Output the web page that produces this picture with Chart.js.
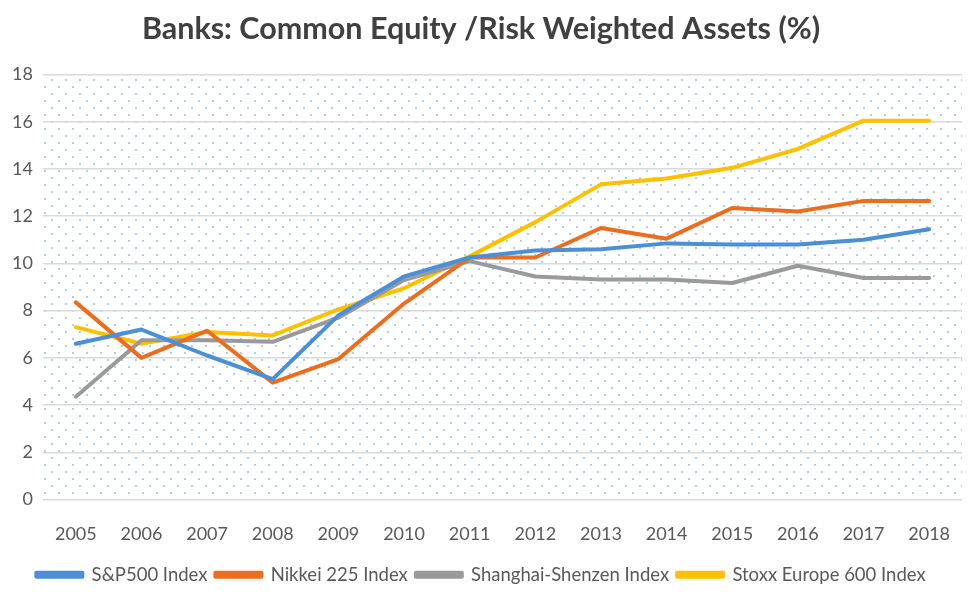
<!DOCTYPE html>
<html>
<head>
<meta charset="utf-8">
<script src="https://cdn.jsdelivr.net/npm/chart.js@4.4.1/dist/chart.umd.min.js"></script>
<style>
  html, body { margin: 0; padding: 0; background: #fff; }
  #wrap { width: 975px; height: 594px; }
</style>
</head>
<body>
<div id="wrap"><canvas id="chart" width="975" height="594"></canvas></div>
<script>
const years = ["2005", "2006", "2007", "2008", "2009", "2010", "2011", "2012", "2013", "2014", "2015", "2016", "2017", "2018"];
const sp500 = [6.6, 7.2, 6.1, 5.1, 7.8, 9.45, 10.25, 10.55, 10.6, 10.85, 10.8, 10.8, 11.0, 11.45];
const nikkei = [8.35, 6.0, 7.15, 4.95, 5.95, 8.3, 10.25, 10.25, 11.5, 11.05, 12.35, 12.2, 12.65, 12.65];
const shanghai = [4.35, 6.75, 6.75, 6.68, 7.7, 9.3, 10.1, 9.45, 9.32, 9.32, 9.17, 9.9, 9.38, 9.38];
const stoxx = [7.3, 6.6, 7.1, 6.95, 8.05, 8.95, 10.3, 11.75, 13.35, 13.6, 14.05, 14.85, 16.05, 16.05];
const yTicks = [0, 2, 4, 6, 8, 10, 12, 14, 16, 18];

const FONT = "Lato, 'Open Sans', sans-serif";

// dotted plot background like the Office pattern fill
function makeDots() {
  const c = document.createElement("canvas");
  c.width = 14; c.height = 14;
  const g = c.getContext("2d");
  g.fillStyle = "#9dc3e6";
  g.beginPath(); g.arc(3, 3, 1.1, 0, Math.PI * 2); g.fill();
  g.beginPath(); g.arc(10, 10, 1.1, 0, Math.PI * 2); g.fill();
  return c;
}

const bgPlugin = {
  id: "dotsBg",
  beforeDraw(chart) {
    const { ctx, chartArea: a } = chart;
    ctx.save();
    ctx.fillStyle = ctx.createPattern(makeDots(), "repeat");
    ctx.fillRect(a.left, a.top, a.right - a.left, a.bottom - a.top);
    ctx.restore();
  }
};

function series(label, data, color) {
  return {
    label: label,
    data: data,
    borderColor: color,
    backgroundColor: color,
    borderWidth: 4,
    borderCapStyle: "round",
    borderJoinStyle: "round",
    pointRadius: 0,
    tension: 0,
    fill: false
  };
}

new Chart(document.getElementById("chart"), {
  type: "line",
  data: {
    labels: years,
    datasets: [
      series("S&P500 Index", sp500, "#4a8fd8"),
      series("Nikkei 225 Index", nikkei, "#ed6d1f"),
      series("Shanghai-Shenzen Index", shanghai, "#9a9a9a"),
      series("Stoxx Europe 600 Index", stoxx, "#ffc000")
    ]
  },
  options: {
    responsive: false,
    animation: false,
    layout: { padding: { left: 0, right: 13, top: 0, bottom: 0 } },
    plugins: {
      title: {
        display: true,
        text: "Banks: Common Equity /Risk Weighted Assets (%)",
        color: "#404040",
        font: { family: FONT, size: 30.5, weight: "bold" },
        padding: { top: 11, bottom: 27 }
      },
      legend: {
        position: "bottom",
        labels: {
          color: "#595959",
          font: { family: FONT, size: 18.5 },
          boxWidth: 46,
          boxHeight: 4,
          padding: 8
        }
      },
      tooltip: { enabled: false }
    },
    scales: {
      x: {
        offset: true,
        afterFit(s) { s.height = 58; },
        grid: { display: false },
        border: { display: false },
        ticks: { color: "#595959", font: { family: FONT, size: 18 }, padding: 16, maxRotation: 0 }
      },
      y: {
        min: 0,
        max: 18,
        afterFit(s) { s.width = 43; },
        afterBuildTicks(s) { s.ticks = yTicks.map(v => ({ value: v })); },
        grid: { color: "#d9d9d9", lineWidth: 1.5, drawTicks: false },
        border: { display: false },
        ticks: { color: "#595959", font: { family: FONT, size: 18 }, padding: 10 }
      }
    }
  },
  plugins: [bgPlugin]
});
</script>
</body>
</html>
